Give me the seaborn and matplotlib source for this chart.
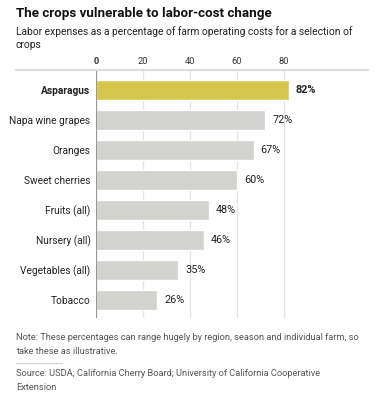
import matplotlib
matplotlib.use("Agg")
import matplotlib.pyplot as plt
import seaborn as sns
import pandas as pd
from matplotlib.lines import Line2D

# data
crops = ["Asparagus", "Napa wine grapes", "Oranges", "Sweet cherries",
         "Fruits (all)", "Nursery (all)", "Vegetables (all)", "Tobacco"]
labor_pct = [82, 72, 67, 60, 48, 46, 35, 26]
ticks = [0, 20, 40, 60, 80]

HIGHLIGHT = "#d5c74d"
GREY_BAR = "#d2d2ce"
W, H = 389, 400

sns.set_theme(style="white")
plt.rcParams["font.family"] = ["Roboto", "DejaVu Sans"]

df = pd.DataFrame({"crop": crops, "pct": labor_pct})
palette = {c: (HIGHLIGHT if c == "Asparagus" else GREY_BAR) for c in crops}

fig = plt.figure(figsize=(W / 100, H / 100), dpi=100)
ax = fig.add_axes([96 / W, 1 - 318 / H, (368 - 96) / W, (318 - 70) / H])

sns.barplot(data=df, x="pct", y="crop", hue="crop", palette=palette,
            legend=False, width=0.67, ax=ax, saturation=1, zorder=3)

ax.set_xlim(0, 115.7)
ax.set_ylim(7.6, -0.667)
for t in ticks:
    ax.axvline(t, color="#999999" if t == 0 else "#e3e3e3", lw=0.9, zorder=1 if t else 4)
ax.set_xticks(ticks)
ax.xaxis.tick_top()
ax.tick_params(axis="x", length=0, pad=3, labelsize=6.7, colors="#333333")
for lab in ax.get_xticklabels():
    if lab.get_text() == "0":
        lab.set_fontweight("bold")
ax.set_xlabel("")
ax.set_ylabel("")
ax.set_yticks(range(len(crops)))
ax.set_yticklabels(crops)
ax.tick_params(axis="y", length=0, pad=4, labelsize=7.3, colors="#222222")
for lab in ax.get_yticklabels():
    if lab.get_text() == "Asparagus":
        lab.set_fontweight("bold")
sns.despine(ax=ax, left=True, bottom=True, right=True, top=True)

for i, v in enumerate(labor_pct):
    ax.text(v + 3, i, f"{v}%", va="center", ha="left", fontsize=7.8,
            color="#222222", fontweight="bold" if i == 0 else "normal")

# top rule spanning label area
fig.add_artist(Line2D([16 / W, 368 / W], [1 - 70 / H] * 2, color="#dddddd", lw=1.6,
                      transform=fig.transFigure))

def ftext(x, y, s, **kw):
    fig.text(x / W, 1 - y / H, s, va="center", ha="left", **kw)

ftext(16, 14, "The crops vulnerable to labor-cost change", fontsize=9.6,
      fontweight="bold", color="#111111")
ftext(16, 32, "Labor expenses as a percentage of farm operating costs for a selection of",
      fontsize=7.4, color="#222222")
ftext(16, 45, "crops", fontsize=7.4, color="#222222")

ftext(16, 338, "Note: These percentages can range hugely by region, season and individual farm, so",
      fontsize=6.7, color="#555555")
ftext(16, 351, "take these as illustrative.", fontsize=6.7, color="#555555")
fig.add_artist(Line2D([16 / W, 62 / W], [1 - 363 / H] * 2, color="#cccccc", lw=0.8,
                      transform=fig.transFigure))
ftext(16, 374, "Source: USDA; California Cherry Board; University of California Cooperative",
      fontsize=6.7, color="#555555")
ftext(16, 387, "Extension", fontsize=6.7, color="#555555")

fig.savefig("out.png", dpi=100)
